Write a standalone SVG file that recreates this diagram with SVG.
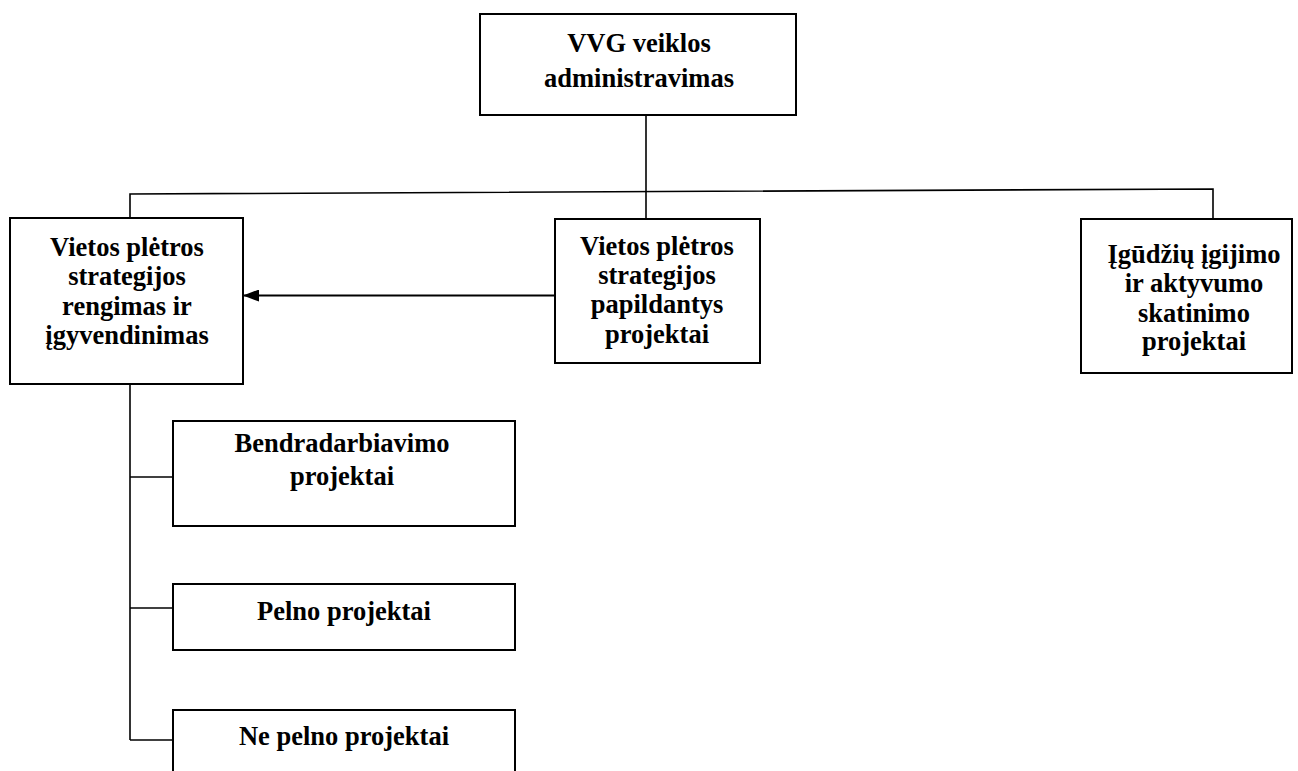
<svg xmlns="http://www.w3.org/2000/svg" width="1298" height="771" viewBox="0 0 1298 771">
<defs>
<style>
.box{fill:#fff;stroke:#000;stroke-width:2}
.c{fill:none;stroke:#000;stroke-width:1.6}
</style>
<marker id="ah" markerWidth="16" markerHeight="12" refX="16" refY="6" orient="auto" markerUnits="userSpaceOnUse" viewBox="0 0 16 12">
<path d="M0,0 L16,6 L0,12 Z" fill="#000"/>
</marker>
</defs>
<rect width="1298" height="771" fill="#fff"/>
<g id="connectors">
<line class="c" x1="646" y1="115" x2="646" y2="219"/>
<polyline class="c" points="130,218 130,194 1213,189 1213,219"/>
<line class="c" x1="130" y1="384" x2="130" y2="740"/>
<line class="c" x1="130" y1="477" x2="173" y2="477"/>
<line class="c" x1="130" y1="608" x2="173" y2="608"/>
<line class="c" x1="130" y1="740" x2="173" y2="740"/>
<line x1="555" y1="295.5" x2="243" y2="295.5" stroke="#000" stroke-width="2" marker-end="url(#ah)"/>
</g>
<g font-family="Liberation Serif, Times New Roman, serif" font-weight="bold" font-size="26.5" fill="#000" text-anchor="middle">
<g id="n-top">
<rect class="box" x="480" y="14" width="316" height="101"/>
<text x="639" y="52">VVG veiklos</text>
<text x="639" y="87">administravimas</text>
</g>
<g id="n-left">
<rect class="box" x="10" y="218" width="233" height="166"/>
<text x="127" y="256">Vietos plėtros</text>
<text x="127" y="285">strategijos</text>
<text x="127" y="315">rengimas ir</text>
<text x="127" y="344">įgyvendinimas</text>
</g>
<g id="n-mid">
<rect class="box" x="555" y="219" width="205" height="144"/>
<text x="657" y="255">Vietos plėtros</text>
<text x="657" y="284">strategijos</text>
<text x="657" y="313">papildantys</text>
<text x="657" y="343">projektai</text>
</g>
<g id="n-right">
<rect class="box" x="1081" y="219" width="211" height="154"/>
<text x="1194" y="263">Įgūdžių įgijimo</text>
<text x="1194" y="292">ir aktyvumo</text>
<text x="1194" y="322">skatinimo</text>
<text x="1194" y="350">projektai</text>
</g>
<g id="n-bendr">
<rect class="box" x="173" y="421" width="342" height="105"/>
<text x="342" y="452">Bendradarbiavimo</text>
<text x="342" y="485">projektai</text>
</g>
<g id="n-pelno">
<rect class="box" x="173" y="584" width="342" height="66"/>
<text x="344" y="620">Pelno projektai</text>
</g>
<g id="n-nepelno">
<rect class="box" x="173" y="710" width="342" height="70"/>
<text x="344" y="745">Ne pelno projektai</text>
</g>
</g>
</svg>
